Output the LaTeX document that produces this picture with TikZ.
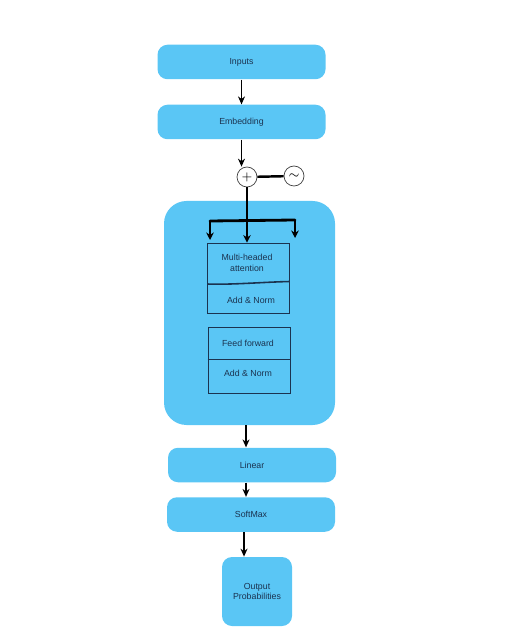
\documentclass[tikz,border=0pt]{standalone}
\usepackage{fontspec}
\setmainfont{Liberation Sans}
\usetikzlibrary{arrows.meta,positioning,calc}
\definecolor{skyblue}{HTML}{5AC6F5}
\definecolor{inkblue}{HTML}{1B3350}
\begin{document}
\begin{tikzpicture}[>=Stealth, font=\fontsize{5}{6}\selectfont, text=inkblue,
    block/.style={fill=skyblue, rounded corners=0.2cm, minimum width=3.36cm, minimum height=0.69cm},
    sublayer/.style={draw=inkblue, line width=0.5pt, minimum width=1.64cm},
    flow/.style={->, thick, black, >={Stealth[length=1.6mm, width=1.4mm]}},
    fork/.style={->, line width=1.6pt, black, >={Stealth[length=1.5mm, width=1.5mm]}},
    pe/.style={draw=black!75, circle, fill=white, minimum size=0.4cm, inner sep=0pt, font=\fontsize{7}{7}\selectfont, text=black}]
  \useasboundingbox (0,0) rectangle (10.2,-12.8);
  % input side
  \node[block] (inputs) at (4.83,-1.24) {Inputs};
  \node[block] (embed) at (4.83,-2.44) {Embedding};
  \node[pe] (plus) at (4.94,-3.54) {$+$};
  \node[pe] (wave) at (5.88,-3.52) {$\sim$};
  \draw[flow] (inputs) -- (embed);
  \draw[flow] (embed.south) -- (embed.south |- plus.north);
  \draw[line width=1.4pt] (plus) -- (wave);
  % encoder block
  \node[fill=skyblue, rounded corners=0.45cm, minimum width=3.42cm, minimum height=4.48cm] (encoder) at (4.99,-6.26) {};
  \node[sublayer, minimum height=1.4cm] (mha) at (4.97,-5.56) {};
  \node[sublayer, minimum height=1.32cm] (ffn) at (4.98,-7.2) {};
  \node (mhatext) at (4.94,-5.26) [align=center] {Multi-headed\\attention};
  \node (mhanorm) at (5.02,-6.0) {Add \& Norm};
  \node (fftext) at (4.96,-6.86) {Feed forward};
  \node (ffnorm) at (4.96,-7.46) {Add \& Norm};
  \draw[inkblue, line width=0.9pt] (mha.west |- 0,-5.68) .. controls (4.6,-5.7) and (5.3,-5.64) .. (mha.east |- 0,-5.63);
  \draw[inkblue, line width=0.5pt] (ffn.west |- 0,-7.18) -- (ffn.east |- 0,-7.18);
  % three copies into attention
  \coordinate (split) at (4.94,-4.4);
  \coordinate (qleft) at (4.2,-4.42);
  \coordinate (qright) at (5.9,-4.4);
  \draw[fork] (plus.south) -- (split) -- (split |- mha.north);
  \draw[line width=1.6pt, line cap=round] (qleft) -- (qright);
  \draw[fork] (qleft) -- ++(0,-0.38);
  \draw[fork] (qright) -- ++(0,-0.36);
  % output side
  \node[block] (linear) at (5.04,-9.3) {Linear};
  \node[block] (softmax) at (5.02,-10.29) {SoftMax};
  \node[fill=skyblue, rounded corners=0.2cm, minimum width=1.4cm, minimum height=1.38cm, align=center] (probs) at (5.14,-11.83) {Output\\Probabilities};
  \draw[flow] (encoder.south -| 4.92,0) -- (4.92,0 |- linear.north);
  \draw[flow] (linear.south -| 4.92,0) -- (4.92,0 |- softmax.north);
  \draw[flow] (softmax.south -| 4.88,0) -- (4.88,0 |- probs.north);
\end{tikzpicture}
\end{document}
